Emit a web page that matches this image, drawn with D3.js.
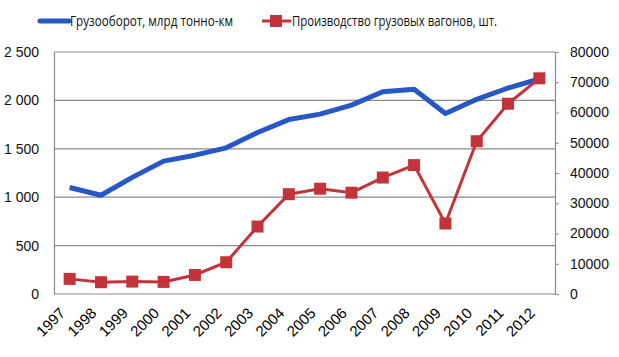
<!DOCTYPE html>
<html><head><meta charset="utf-8">
<script src="https://cdn.jsdelivr.net/npm/d3@7"></script>
<style>body{margin:0;background:#fff}svg{display:block;font-family:"Open Sans","DejaVu Sans",sans-serif}</style>
</head><body>
<svg id="c" width="619" height="357"></svg>
<script>
const years = ["1997","1998","1999","2000","2001","2002","2003","2004","2005","2006","2007","2008","2009","2010","2011","2012"];
const turnover = [1100,1020,1205,1373,1434,1510,1669,1802,1858,1951,2090,2116,1865,2011,2128,2222];
const wagons = [5000,3900,4100,4000,6300,10500,22300,33000,34800,33500,38500,42600,23300,50500,62900,71300];
const leftTicks = [0,500,1000,1500,2000,2500];
const rightTicks = [0,10000,20000,30000,40000,50000,60000,70000,80000];
const seriesNames = ["Грузооборот, млрд тонно-км","Производство грузовых вагонов, шт."];

const svg = d3.select("#c");
const L=54, R=555, T=52, B=294;
const x = d3.scalePoint().domain(years).range([L,R]).padding(0.5);
const yL = d3.scaleLinear().domain([0,2500]).range([B,T]);
const yR = d3.scaleLinear().domain([0,80000]).range([B,T]);
const blue="#2757c4", red="#c3333a", grid="#8a8a8a";

// gridlines
svg.append("g").selectAll("line").data(leftTicks.filter(d=>d>0)).join("line")
  .attr("x1",L).attr("x2",R).attr("y1",d=>yL(d)).attr("y2",d=>yL(d))
  .attr("stroke",grid).attr("stroke-width",1.2);

// left axis
const fmt = d => d3.format(",")(d).replace(/,/g," ");
const gl = svg.append("g").attr("transform",`translate(${L},0)`)
  .call(d3.axisLeft(yL).tickValues(leftTicks).tickSize(0).tickPadding(15).tickFormat(fmt));
gl.select(".domain").attr("stroke",grid).attr("stroke-width",1.2);
gl.selectAll("text").attr("font-size",14).attr("fill","#111");

// right axis
const gr = svg.append("g").attr("transform",`translate(${R},0)`)
  .call(d3.axisRight(yR).tickValues(rightTicks).tickSize(4).tickPadding(11).tickFormat(d3.format("d")));
gr.select(".domain").attr("stroke",grid).attr("stroke-width",1.2);
gr.selectAll(".tick line").attr("stroke",grid);
gr.selectAll("text").attr("font-size",14).attr("fill","#111");

// bottom axis
const gb = svg.append("g").attr("transform",`translate(0,${B})`)
  .call(d3.axisBottom(x).tickSize(0).tickPadding(0));
gb.select(".domain").attr("stroke",grid).attr("stroke-width",1.2).attr("d",`M${L},0H${R}`);
gb.selectAll("text").attr("font-size",15).attr("fill","#000").attr("font-weight",500)
  .attr("text-anchor","end").attr("dy",0)
  .attr("transform","translate(-4,20) rotate(-45)");

// blue line
svg.append("path").datum(turnover)
  .attr("d",d3.line().x((d,i)=>x(years[i])).y(d=>yL(d)))
  .attr("fill","none").attr("stroke",blue).attr("stroke-width",5).attr("stroke-linejoin","round");

// red line + markers
svg.append("path").datum(wagons)
  .attr("d",d3.line().x((d,i)=>x(years[i])).y(d=>yR(d)))
  .attr("fill","none").attr("stroke",red).attr("stroke-width",3);
svg.append("g").selectAll("rect").data(wagons).join("rect")
  .attr("x",(d,i)=>x(years[i])-6).attr("y",d=>yR(d)-6).attr("width",12).attr("height",12)
  .attr("fill",red);

// legend
const lg = svg.append("g");
lg.append("line").attr("x1",40).attr("x2",69).attr("y1",21).attr("y2",21).attr("stroke",blue).attr("stroke-width",5).attr("stroke-linecap","round");
lg.append("text").attr("x",70).attr("y",26).attr("font-size",15).attr("fill","#111")
  .attr("textLength",163).attr("lengthAdjust","spacingAndGlyphs").text(seriesNames[0]);
lg.append("line").attr("x1",262).attr("x2",291).attr("y1",21).attr("y2",21).attr("stroke",red).attr("stroke-width",3);
lg.append("rect").attr("x",270).attr("y",15).attr("width",12).attr("height",12).attr("fill",red);
lg.append("text").attr("x",292).attr("y",26).attr("font-size",15).attr("fill","#111")
  .attr("textLength",205).attr("lengthAdjust","spacingAndGlyphs").text(seriesNames[1]);
</script>
</body></html>
